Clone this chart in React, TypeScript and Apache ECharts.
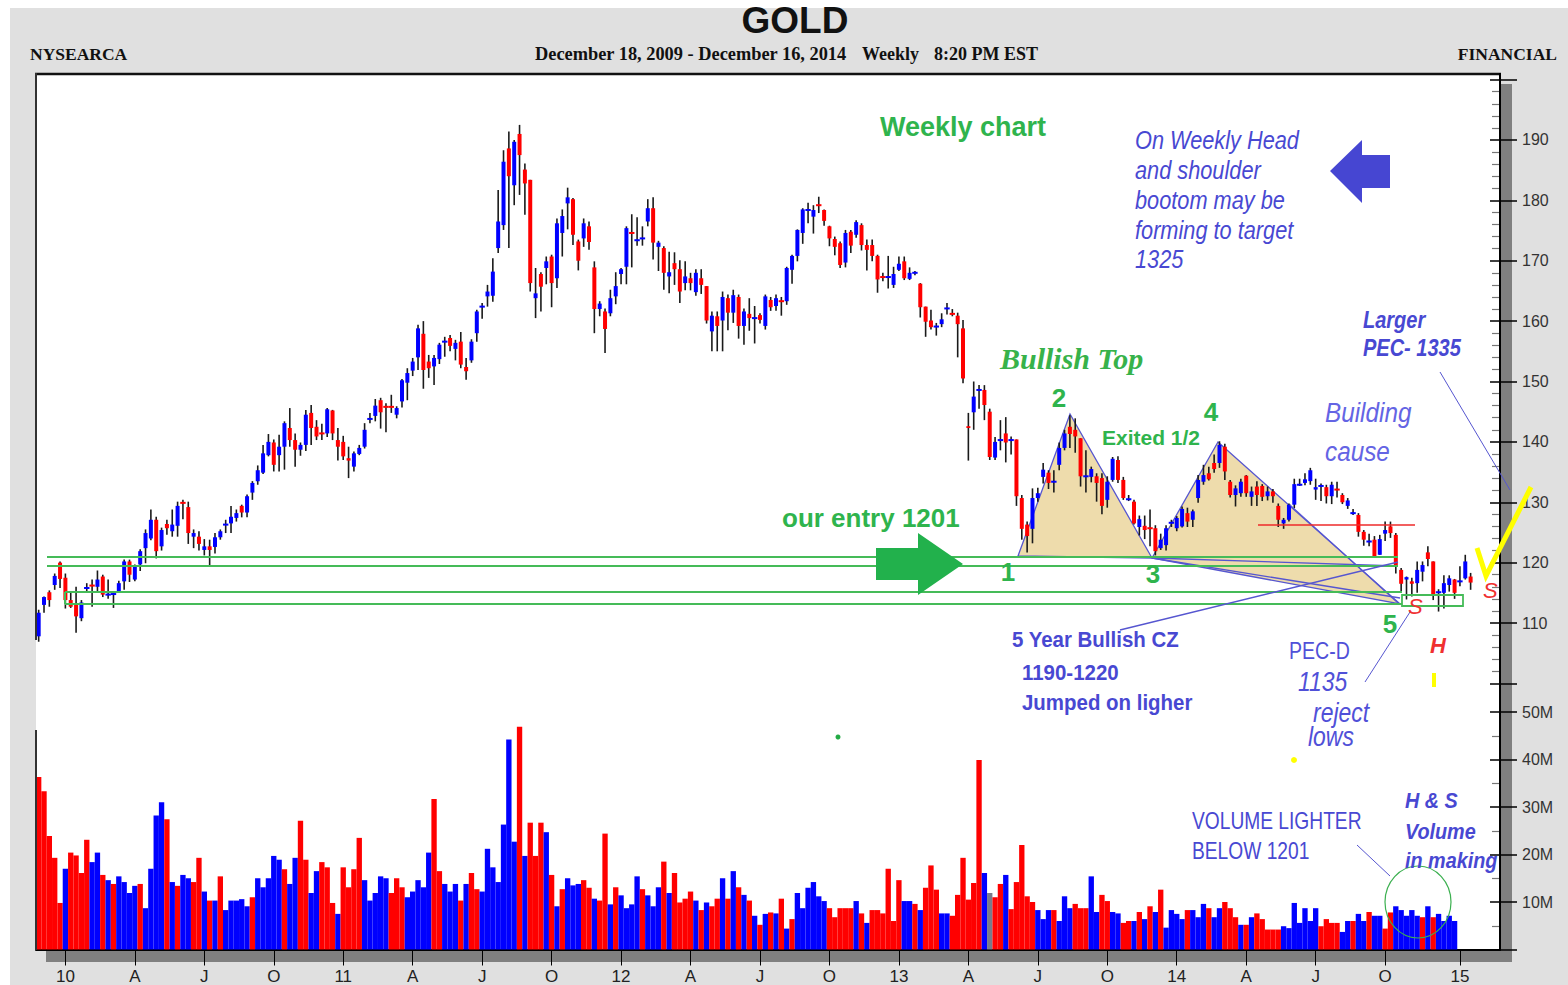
import React, { useEffect, useRef } from 'react';
import * as echarts from 'echarts';

// ---- weekly GLD candles (slots 0..268) ----
const opens = [107.8,113.0,115.1,116.3,120.0,117.5,113.8,113.0,110.8,115.7,116.3,116.0,117.7,114.6,114.7,115.2,116.9,120.2,117.2,119.7,
122.4,124.0,127.1,122.7,126.4,125.2,126.1,130.0,129.2,124.3,124.3,122.1,122.7,122.6,124.2,126.2,126.5,127.4,129.4,128.3,
131.6,133.5,134.9,137.8,139.9,137.8,139.2,142.3,140.3,138.7,139.5,144.8,142.5,141.5,141.4,145.2,140.3,140.0,137.3,135.9,
138.0,139.2,143.7,144.3,146.9,145.9,145.9,144.5,146.7,149.8,151.8,154.0,157.9,153.3,152.5,153.7,156.5,157.2,155.4,156.6,
152.4,153.5,158.0,162.3,164.1,164.2,172.1,175.9,188.6,182.5,191.0,185.1,183.4,163.8,167.8,168.8,170.7,167.1,174.6,179.5,
180.2,173.2,173.7,175.7,168.9,162.0,161.6,161.3,164.1,167.8,169.0,174.7,173.3,173.6,176.5,178.7,172.3,172.1,167.4,169.6,
168.6,166.3,167.1,164.8,167.1,165.8,158.3,160.8,160.1,163.8,161.4,164.0,159.2,161.2,160.4,161.0,159.2,163.5,162.5,163.4,
163.3,168.5,170.8,174.6,178.3,177.3,179.3,178.4,175.7,173.6,172.9,169.7,174.8,174.3,175.9,172.6,172.6,170.8,167.4,167.2,
166.0,168.5,169.9,167.0,167.9,166.2,162.4,160.1,159.0,159.5,162.0,161.3,160.9,158.8,142.6,144.9,148.5,148.6,145.0,137.4,
140.2,141.4,140.2,140.4,130.7,126.3,125.6,130.7,134.2,134.9,133.3,136.2,139.0,142.5,142.0,140.6,134.2,134.2,134.3,134.0,
130.4,133.7,137.0,133.7,130.4,130.1,125.9,126.1,125.8,125.7,122.4,122.9,126.5,125.7,126.0,128.2,127.1,130.7,133.4,134.8,
136.5,136.5,139.2,133.4,131.2,131.5,134.4,130.9,132.6,132.7,131.0,131.8,129.4,126.5,127.1,129.6,132.8,133.2,133.5,132.1,
132.6,132.5,131.0,132.2,131.2,129.4,128.1,127.9,125.1,123.4,123.8,121.3,124.8,126.0,124.6,118.8,117.2,116.9,116.6,118.5,
121.7,120.2,115.0,115.0,116.3,117.2,116.8,117.4,117.7];

const closes = [111.7,114.3,113.8,117.8,117.3,113.8,112.7,111.1,113.4,115.9,116.1,117.2,114.7,114.8,114.9,116.6,120.2,118.0,119.4,121.9,
124.9,127.1,121.9,125.4,125.7,126.3,129.4,129.8,124.9,124.9,123.1,122.7,122.1,124.2,125.2,126.4,127.6,128.2,128.3,131.0,
133.2,135.3,138.1,140.0,136.2,139.2,143.1,140.3,138.7,139.5,144.5,142.3,140.9,141.3,145.4,141.4,139.2,137.6,136.9,138.1,
139.0,142.0,143.9,146.0,144.9,145.7,145.7,145.6,150.2,151.4,153.3,158.8,151.9,152.2,153.9,156.1,156.7,155.9,156.4,152.8,
151.7,156.6,161.6,162.5,164.9,168.2,176.5,186.4,184.0,189.7,187.5,182.8,166.3,164.6,165.7,169.9,166.3,176.2,177.4,180.5,
174.3,170.0,176.2,173.1,162.0,162.9,158.7,163.8,165.8,168.6,175.4,174.5,173.5,173.8,178.7,173.0,173.0,168.0,168.1,168.6,
164.9,167.4,166.3,168.0,166.0,160.1,160.9,159.2,164.0,161.4,164.3,159.2,161.6,160.5,160.6,160.2,164.1,162.3,163.8,163.2,
168.8,170.8,175.1,178.5,178.5,178.4,179.1,176.6,173.7,172.3,169.3,174.6,172.5,176.4,172.6,171.8,170.8,166.9,167.2,167.4,
167.8,169.5,167.1,168.0,168.1,162.3,159.9,159.0,159.2,160.3,162.2,161.1,159.5,150.5,142.3,147.5,148.7,146.1,137.5,140.0,
140.4,139.9,140.4,131.0,125.6,124.4,130.7,131.5,135.4,133.2,133.5,139.0,141.4,141.3,140.9,134.3,134.4,135.5,133.2,129.4,
133.4,137.2,133.7,130.7,130.6,126.5,127.2,125.4,125.6,121.9,123.8,125.7,126.7,127.4,128.9,126.8,128.5,133.7,134.5,133.8,
135.5,139.5,135.1,131.2,132.3,133.4,131.5,131.8,131.2,130.9,131.8,131.0,127.1,127.1,129.6,133.0,133.0,133.8,135.3,132.5,
132.8,131.0,132.9,132.0,130.0,130.3,128.3,125.1,123.8,123.6,121.1,123.9,125.4,124.9,119.6,116.5,117.6,116.5,118.8,119.6,
120.6,114.7,115.2,116.6,117.4,115.0,117.0,120.2,116.7];

const lows = [106.9,111.7,112.7,115.5,115.8,112.4,112.5,108.4,110.3,115.0,112.7,115.0,114.3,114.0,112.5,115.0,115.5,116.8,116.9,118.6,
119.9,123.7,120.7,122.0,124.6,124.3,124.3,127.2,123.1,122.4,122.0,121.2,119.6,121.5,123.8,124.9,124.9,126.8,127.5,127.5,
130.4,132.9,134.7,137.6,135.1,135.1,135.4,139.2,135.9,137.7,138.5,139.5,140.3,140.3,140.8,140.3,136.9,137.0,134.0,135.1,
137.8,138.9,143.1,143.4,142.2,141.6,144.8,143.9,145.7,146.9,150.9,151.9,148.8,150.6,149.4,152.9,154.1,155.0,153.5,152.2,
150.3,153.1,156.6,160.4,162.4,163.2,171.3,175.1,172.1,179.2,180.9,177.6,164.9,160.5,161.6,166.1,162.3,165.5,170.7,175.2,
172.6,168.4,172.3,171.8,158.0,160.8,154.7,160.8,162.8,166.1,166.1,168.9,172.5,172.5,175.7,170.2,168.3,165.2,164.6,166.0,
163.0,165.1,165.1,164.2,164.5,159.6,155.0,155.0,155.0,158.5,159.7,157.1,156.1,158.4,156.3,159.6,158.6,161.7,161.7,160.9,
162.7,166.2,169.9,172.8,176.2,174.5,177.9,175.8,172.4,170.9,168.8,168.9,171.3,173.8,171.7,168.4,169.9,164.7,166.6,165.4,
165.5,168.3,166.8,166.8,167.6,160.6,157.4,158.6,157.6,159.0,161.1,160.8,154.0,149.7,136.9,142.0,145.5,143.6,137.0,137.0,
138.6,136.6,137.9,129.4,123.8,121.7,123.2,130.1,133.1,132.2,131.6,135.3,138.6,139.0,138.2,132.6,131.6,133.3,130.1,128.0,
129.1,133.4,133.2,130.4,130.2,126.3,124.5,123.9,122.7,121.2,122.1,122.0,125.9,125.2,125.8,125.9,125.9,129.9,132.9,133.6,
134.9,135.7,133.7,130.8,129.3,130.9,130.9,129.4,129.4,130.2,130.3,129.9,125.9,125.6,126.8,129.0,132.7,132.8,132.9,130.4,
130.2,129.8,129.7,130.8,129.7,128.9,127.9,124.3,122.8,122.7,121.0,121.3,123.6,124.1,118.2,115.0,113.9,114.4,115.0,116.9,
119.4,113.8,111.9,112.4,115.2,114.0,116.1,117.2,115.5];

const highs = [112.2,114.4,115.4,118.2,120.2,118.2,115.2,116.0,113.8,116.6,117.2,118.7,118.0,117.2,115.2,117.0,120.5,120.5,119.7,122.2,
125.5,128.8,127.6,125.8,127.1,128.8,130.1,130.4,130.1,125.5,125.2,123.9,123.8,124.9,125.5,127.1,129.4,128.8,129.6,131.3,
133.5,136.1,139.5,141.3,140.4,141.2,143.4,145.6,141.4,139.9,145.3,146.1,143.6,143.0,145.6,145.3,142.3,141.0,139.2,138.4,
139.5,143.1,144.8,147.1,147.3,146.4,147.8,145.9,150.4,152.2,153.9,159.4,160.0,154.4,154.4,156.4,157.4,157.7,156.9,158.2,
153.9,157.0,161.9,163.0,166.0,170.4,181.7,188.3,191.4,190.0,192.5,186.1,183.4,168.8,168.1,170.7,171.0,177.0,178.5,182.1,
180.4,173.5,177.0,176.5,169.9,163.3,162.1,165.2,168.1,168.8,175.7,177.7,177.2,175.7,180.2,180.5,173.3,172.4,171.5,171.4,
170.1,169.9,168.0,168.6,168.6,165.8,161.6,161.6,164.9,164.4,165.2,164.4,162.1,163.8,162.5,161.3,164.4,164.0,164.4,164.0,
169.0,171.0,175.2,178.7,179.6,179.2,180.6,178.5,175.8,174.0,173.2,175.1,175.1,176.7,176.2,173.5,173.5,171.0,168.0,170.8,
169.0,170.7,170.7,168.9,168.3,166.3,162.4,161.9,159.7,161.3,163.0,162.0,161.4,160.2,144.8,150.0,149.4,149.4,145.5,140.8,
143.6,144.1,140.9,140.4,131.2,126.8,132.3,132.4,136.5,135.3,135.3,139.9,142.0,144.4,143.9,140.6,138.6,135.9,134.8,134.8,
134.3,137.5,137.6,134.2,131.2,130.4,127.8,127.8,128.8,126.2,124.8,126.2,127.1,127.7,129.3,129.1,128.8,134.5,136.2,135.9,
137.9,140.1,139.7,133.7,132.8,133.9,134.5,132.6,133.5,133.0,132.6,132.2,129.8,127.4,129.8,133.9,133.9,134.8,135.7,133.9,
133.1,132.9,133.4,133.4,131.5,130.7,128.9,128.2,125.4,124.8,124.4,124.6,126.8,126.8,124.9,119.1,117.7,117.5,120.2,120.2,
122.7,120.2,115.6,117.9,117.9,117.3,119.4,121.3,118.3];

// weekly volume, millions (slots 0..265)
const volumes = [36.3,33.3,23.9,19.3,9.8,17.0,20.4,19.8,16.1,23.1,18.4,20.4,15.7,14.6,13.8,15.4,14.2,11.9,13.4,13.8,
8.7,17.0,28.2,31.0,27.4,14.2,13.4,15.7,15.0,14.2,19.3,12.2,10.3,10.3,15.4,8.3,10.3,10.3,10.6,9.1,
11.0,15.0,13.1,15.0,19.7,18.9,16.9,13.8,19.3,27.1,18.9,11.9,16.5,18.4,17.3,9.8,7.5,17.3,13.1,16.9,
23.5,14.6,10.3,11.9,15.4,15.0,11.9,15.0,13.1,11.0,12.2,14.6,13.1,20.4,31.7,16.5,13.8,12.2,13.8,10.3,
13.8,16.1,12.7,12.2,21.2,17.3,14.2,26.3,44.2,22.7,46.9,19.7,26.7,19.7,26.7,24.7,15.7,9.1,12.7,15.0,
13.5,13.8,14.6,13.0,10.7,10.3,24.4,9.5,13.1,11.4,8.7,9.5,15.4,12.7,11.4,9.1,13.1,18.5,11.9,16.1,
9.9,10.7,12.2,10.3,8.3,9.9,9.1,10.7,15.0,10.7,16.5,13.1,11.5,10.3,7.1,5.2,7.5,7.8,7.6,10.7,
4.4,6.4,11.9,8.7,13.0,14.2,11.2,10.2,8.7,6.8,8.7,8.7,8.7,10.2,7.6,5.6,8.3,8.3,7.6,17.0,
6.0,14.6,10.2,10.2,9.6,8.3,13.0,17.7,12.6,7.6,7.6,7.1,11.5,19.3,10.5,14.0,39.9,16.1,11.9,11.0,
13.8,15.7,8.5,14.2,22.0,11.2,10.0,8.3,6.4,8.3,8.3,6.0,11.2,8.7,9.6,8.7,8.7,15.4,7.9,11.5,
10.2,7.9,7.6,5.6,6.0,6.0,7.9,6.4,9.1,7.9,12.6,4.6,8.3,7.5,6.4,8.3,8.3,6.8,9.6,8.7,
6.8,8.7,10.0,8.7,6.8,5.2,5.2,6.8,7.6,6.4,4.2,4.2,4.2,4.9,4.5,9.8,5.6,8.7,6.0,8.7,
4.9,6.4,5.6,5.6,3.7,6.0,6.0,7.5,6.0,7.9,7.1,7.1,4.4,7.8,9.1,8.3,7.1,8.3,7.1,6.8,
9.1,6.8,7.5,6.0,7.1,6.0];

// r = down week, b = up week, g = unchanged
const volumeColors =
  'rrrrrbrrrr' + 'bbrbrbbbbr' + 'bbbbrbrbbr' + 'rbrbrbbbbb' + 'rbbbbbrbbr' +
  'rbbrrrbrrr' + 'rbbbbbrrrb' + 'bbbbrrbbbr' + 'brrbbbbbbb' + 'rbrrrbrbrb' +
  'bbrrbrrbrb' + 'bbbrbbbrbr' + 'rrrbrbrrbr' + 'brbrbrbrbr' + 'brbbbbbbrr' +
  'rrrbrbrrrr' + 'rrbbrbrrrb' + 'brrrrrrbgr' + 'rbrrrrrbbb' + 'rbbbrrrbbr' +
  'rbbrrbrbrb' + 'rbbbbrbbbr' + 'bbrrrbrbrr' + 'rrrbbbbbbb' + 'rrrrbbrbbr' +
  'bbrrbbbbbr' + 'brbbbb';

const SLOT_COUNT = 274;
const tickSlots = [5, 18, 31, 44, 57, 70, 83, 96, 109, 122, 135, 148, 161, 174, 187, 200, 213, 226, 239, 252, 266];
const tickLabels = ['10', 'A', 'J', 'O', '11', 'A', 'J', 'O', '12', 'A', 'J', 'O', '13', 'A', 'J', 'O', '14', 'A', 'J', 'O', '15'];

const SANS = '"Liberation Sans", Arial, sans-serif';
const NARROW = '"Liberation Sans Narrow", "Liberation Sans", Arial, sans-serif';
const SERIF = '"Liberation Serif", "Times New Roman", serif';
const GREEN = '#2fb44d';
const TXT_BLUE = '#4848d2';
const LINE_BLUE = '#5656d0';

function txt(text: string, x: number, y: number, font: string, fill: string, opts: any = {}) {
  return {
    type: 'text', x, y, z: 30, scaleX: opts.scaleX ?? 1,
    style: {
      text, font, fill,
      textAlign: opts.align || 'left', align: opts.align || 'left',
      textVerticalAlign: 'middle', verticalAlign: 'middle',
    },
  };
}
function ln(x1: number, y1: number, x2: number, y2: number, stroke: string, w: number, z = 25) {
  return { type: 'line', z, shape: { x1, y1, x2, y2 }, style: { stroke, lineWidth: w } };
}

export default function App() {
  const ref = useRef<HTMLDivElement>(null);
  useEffect(() => {
    if (!ref.current) return;
    const chart = echarts.init(ref.current, undefined, { renderer: 'svg' });
    const cats = Array.from({ length: SLOT_COUNT }, (_, i) => String(i));
    const tickSet = new Set(tickSlots);
    const labelMap: Record<number, string> = {};
    tickSlots.forEach((s, k) => { labelMap[s] = tickLabels[k]; });

    const candleData = opens.map((o, i) => [i, o, closes[i], lows[i], highs[i]]);
    const colorOf: Record<string, string> = { r: '#ff0000', b: '#0000ff', g: '#7a7a8a' };
    const volData = volumes.map((v, i) => ({ value: v, itemStyle: { color: colorOf[volumeColors[i]] || '#0000ff' } }));

    const axisFont = { fontFamily: NARROW, fontSize: 16, color: '#333' };

    const elements: any[] = [
      // background and frame shadow
      { type: 'rect', z: -20, shape: { x: 10, y: 8, width: 1558, height: 977 }, style: { fill: '#e0e0e0' } },
      { type: 'rect', z: -15, shape: { x: 1501, y: 84, width: 11, height: 878 }, style: { fill: '#808080' } },
      { type: 'rect', z: -15, shape: { x: 46, y: 950, width: 1466, height: 12 }, style: { fill: '#808080' } },
      { type: 'rect', z: -12, shape: { x: 36, y: 73, width: 1464, height: 876 }, style: { fill: '#ffffff' } },
      // frame
      ln(35, 74, 1501, 74, '#111', 2.5, 5),
      ln(36, 73, 36, 640, '#333', 2, 5),
      ln(36, 730, 36, 950, '#333', 2, 5),
      ln(1500, 73, 1500, 950, '#000', 2, 5),
      // header
      txt('GOLD', 795, 20, `bold 37px ${SANS}`, '#111', { align: 'center' }),
      txt('NYSEARCA', 30, 54, `bold 17.5px ${SERIF}`, '#111'),
      txt('December 18, 2009 - December 16, 2014', 535, 54, `bold 18px ${SERIF}`, '#111', { scaleX: 1.02 }),
      txt('Weekly', 862, 54, `bold 18px ${SERIF}`, '#111'),
      txt('8:20 PM EST', 934, 54, `bold 18px ${SERIF}`, '#111'),
      txt('FINANCIAL', 1557, 54, `bold 17.5px ${SERIF}`, '#111', { align: 'right' }),
      // shaded patterns
      { type: 'polygon', z: -5, shape: { points: [[1018, 556], [1070, 414], [1152, 558]] }, style: { fill: '#eedcac', stroke: LINE_BLUE, lineWidth: 1.3 } },
      { type: 'polygon', z: -5, shape: { points: [[1152, 558], [1218, 442], [1400, 604]] }, style: { fill: '#eedcac', stroke: LINE_BLUE, lineWidth: 1.3 } },
      ln(1152, 558, 1400, 598, LINE_BLUE, 1.3),
      ln(1152, 558, 1398, 566, LINE_BLUE, 1.3),
      ln(1290, 505, 1398, 603, LINE_BLUE, 1.1),
      // support zone lines
      ln(47, 557, 1398, 557, '#45bb58', 2),
      ln(47, 566, 1398, 566, '#45bb58', 2),
      ln(65, 592, 1402, 592, '#45bb58', 2),
      ln(65, 604, 1402, 604, '#45bb58', 2),
      ln(65, 592, 65, 604, '#45bb58', 2),
      { type: 'rect', z: 25, shape: { x: 1402, y: 595, width: 61, height: 11 }, style: { fill: 'none', stroke: '#45bb58', lineWidth: 1.8 } },
      ln(1258, 525, 1415, 525, '#ee2a2a', 1.5),
      // arrows
      { type: 'polygon', z: 25, shape: { points: [[876, 548], [918, 548], [918, 533], [963, 564], [918, 595], [918, 580], [876, 580]] }, style: { fill: '#22b14c' } },
      { type: 'polygon', z: 25, shape: { points: [[1390, 155], [1362, 155], [1362, 140], [1330, 171], [1362, 203], [1362, 188], [1390, 188]] }, style: { fill: '#4646d2' } },
      // pointer lines
      ln(1120, 630, 1398, 562, LINE_BLUE, 1.4),
      ln(1440, 372, 1510, 490, LINE_BLUE, 1),
      ln(1365, 682, 1410, 612, LINE_BLUE, 1),
      ln(1357, 845, 1390, 876, LINE_BLUE, 1),
      // yellow marks
      { type: 'polyline', z: 26, shape: { points: [[1477, 548], [1486, 576], [1531, 487]] }, style: { stroke: '#ffff00', lineWidth: 5, fill: 'none' } },
      { type: 'rect', z: 26, shape: { x: 1432, y: 673, width: 4, height: 14 }, style: { fill: '#ffff00' } },
      { type: 'circle', z: 26, shape: { cx: 1294, cy: 760, r: 3 }, style: { fill: '#ffff00' } },
      { type: 'circle', z: 26, shape: { cx: 838, cy: 737, r: 2.5 }, style: { fill: '#22aa44' } },
      { type: 'ellipse', z: 26, shape: { cx: 1418, cy: 902, rx: 33, ry: 36 }, style: { fill: 'none', stroke: '#3cb050', lineWidth: 1.2 } },
      // green texts
      txt('Weekly chart', 880, 127, `bold 27px ${SANS}`, GREEN),
      txt('Bullish Top', 1000, 358, `italic bold 30px ${SERIF}`, '#37b24a'),
      txt('2', 1059, 398, `bold 26px ${SANS}`, GREEN, { align: 'center' }),
      txt('4', 1211, 412, `bold 26px ${SANS}`, GREEN, { align: 'center' }),
      txt('1', 1008, 572, `bold 26px ${SANS}`, GREEN, { align: 'center' }),
      txt('3', 1153, 574, `bold 26px ${SANS}`, GREEN, { align: 'center' }),
      txt('5', 1390, 624, `bold 26px ${SANS}`, GREEN, { align: 'center' }),
      txt('Exited 1/2', 1102, 437, `bold 21px ${SANS}`, GREEN),
      txt('our entry 1201', 782, 518, `bold 26px ${SANS}`, GREEN),
      // blue texts
      txt('On Weekly Head', 1135, 140, `italic 25px ${SANS}`, TXT_BLUE, { scaleX: 0.87 }),
      txt('and shoulder', 1135, 170, `italic 25px ${SANS}`, TXT_BLUE, { scaleX: 0.87 }),
      txt('bootom may be', 1135, 200, `italic 25px ${SANS}`, TXT_BLUE, { scaleX: 0.87 }),
      txt('forming to target', 1135, 230, `italic 25px ${SANS}`, TXT_BLUE, { scaleX: 0.87 }),
      txt('1325', 1135, 259, `italic 25px ${SANS}`, TXT_BLUE, { scaleX: 0.87 }),
      txt('Larger', 1363, 320, `italic bold 23px ${SANS}`, TXT_BLUE, { scaleX: 0.87 }),
      txt('PEC- 1335', 1363, 348, `italic bold 23px ${SANS}`, TXT_BLUE, { scaleX: 0.87 }),
      txt('Building', 1325, 413, `italic 27px ${SANS}`, '#6464e4', { scaleX: 0.9 }),
      txt('cause', 1325, 452, `italic 27px ${SANS}`, '#6464e4', { scaleX: 0.9 }),
      txt('5 Year Bullish CZ', 1012, 640, `bold 22px ${SANS}`, TXT_BLUE, { scaleX: 0.93 }),
      txt('1190-1220', 1022, 673, `bold 22px ${SANS}`, TXT_BLUE, { scaleX: 0.93 }),
      txt('Jumped on ligher', 1022, 703, `bold 22px ${SANS}`, TXT_BLUE, { scaleX: 0.93 }),
      txt('PEC-D', 1289, 651, `23px ${SANS}`, '#5050d8', { scaleX: 0.85 }),
      txt('1135', 1298, 681, `italic 27px ${SANS}`, '#5050d8', { scaleX: 0.85 }),
      txt('reject', 1313, 712, `italic 27px ${SANS}`, '#5050d8', { scaleX: 0.85 }),
      txt('lows', 1308, 736, `italic 27px ${SANS}`, '#5050d8', { scaleX: 0.85 }),
      txt('VOLUME LIGHTER', 1192, 821, `24px ${SANS}`, TXT_BLUE, { scaleX: 0.8 }),
      txt('BELOW 1201', 1192, 851, `24px ${SANS}`, TXT_BLUE, { scaleX: 0.8 }),
      txt('H & S', 1405, 800, `italic bold 22px ${SANS}`, TXT_BLUE, { scaleX: 0.9 }),
      txt('Volume', 1405, 831, `italic bold 22px ${SANS}`, TXT_BLUE, { scaleX: 0.9 }),
      txt('in making', 1405, 860, `italic bold 22px ${SANS}`, TXT_BLUE, { scaleX: 0.9 }),
      // red marks
      txt('S', 1408, 606, `italic 22px ${SANS}`, '#f03030'),
      txt('S', 1483, 590, `italic 22px ${SANS}`, '#f03030'),
      txt('H', 1430, 645, `italic bold 22px ${SANS}`, '#f03030'),
    ];

    chart.setOption({
      animation: false,
      backgroundColor: '#ffffff',
      grid: [
        { left: 36, top: 79.6, width: 1464, height: 603.8 },
        { left: 36, top: 712, width: 1464, height: 237.5 },
      ],
      xAxis: [
        { type: 'category', gridIndex: 0, data: cats, show: false, boundaryGap: true },
        {
          type: 'category', gridIndex: 1, data: cats, boundaryGap: true,
          axisLine: { show: true, lineStyle: { color: '#000', width: 2 } },
          axisTick: { show: true, alignWithLabel: true, interval: (i: number) => tickSet.has(i), length: 16, lineStyle: { color: '#000', width: 1 } },
          axisLabel: { interval: (i: number) => tickSet.has(i), formatter: (_v: string, i: number) => labelMap[i] || '', margin: 18, ...axisFont, color: '#222', fontSize: 17 },
          splitLine: { show: false },
        },
      ],
      yAxis: [
        {
          type: 'value', gridIndex: 0, position: 'right', min: 100, max: 200, interval: 10,
          axisLine: { show: true, lineStyle: { color: '#000', width: 2 } },
          axisTick: { show: true, inside: true, length: 10, lineStyle: { color: '#000', width: 1.5 } },
          minorTick: { show: true, splitNumber: 5, length: 8, lineStyle: { color: '#777', width: 1.2 } },
          axisLabel: { show: false }, splitLine: { show: false },
        },
        {
          type: 'value', gridIndex: 0, position: 'right', min: 100, max: 200, interval: 10,
          axisLine: { show: false },
          axisTick: { show: true, length: 17, lineStyle: { color: '#000', width: 1.5 } },
          axisLabel: { formatter: (v: number) => (v >= 110 && v <= 190 ? String(v) : ''), margin: 22, ...axisFont },
          splitLine: { show: false },
        },
        {
          type: 'value', gridIndex: 1, position: 'right', min: 0, max: 50, interval: 10,
          axisLine: { show: true, lineStyle: { color: '#000', width: 2 } },
          axisTick: { show: true, inside: true, length: 10, lineStyle: { color: '#000', width: 1.5 } },
          minorTick: { show: true, splitNumber: 2, length: 8, lineStyle: { color: '#777', width: 1.2 } },
          axisLabel: { show: false }, splitLine: { show: false },
        },
        {
          type: 'value', gridIndex: 1, position: 'right', min: 0, max: 50, interval: 10,
          axisLine: { show: false },
          axisTick: { show: true, length: 17, lineStyle: { color: '#000', width: 1.5 } },
          axisLabel: { formatter: (v: number) => (v > 0 ? v + 'M' : ''), margin: 22, ...axisFont },
          splitLine: { show: false },
        },
      ],
      series: [
        {
          type: 'custom', xAxisIndex: 0, yAxisIndex: 0, data: candleData,
          encode: { x: 0, y: [1, 2, 3, 4] },
          renderItem: (_p: any, api: any) => {
            const i = api.value(0);
            const o = api.value(1), c = api.value(2);
            const l = Math.min(api.value(3), o, c), h = Math.max(api.value(4), o, c);
            const pO = api.coord([i, o]), pC = api.coord([i, c]);
            const pL = api.coord([i, l]), pH = api.coord([i, h]);
            const x = pO[0];
            const hgt = Math.abs(pO[1] - pC[1]);
            const doji = hgt < 1.8;
            const color = c >= o ? '#0000ff' : '#ff0000';
            return {
              type: 'group',
              children: [
                { type: 'line', shape: { x1: x, y1: pH[1], x2: x, y2: pL[1] }, style: { stroke: '#1a1a1a', lineWidth: 1.6 } },
                {
                  type: 'rect',
                  shape: doji
                    ? { x: x - 2.7, y: (pO[1] + pC[1]) / 2 - 1, width: 5.4, height: 2 }
                    : { x: x - 2, y: Math.min(pO[1], pC[1]), width: 4, height: hgt },
                  style: { fill: color },
                },
              ],
            };
          },
        },
        {
          type: 'bar', xAxisIndex: 1, yAxisIndex: 2, data: volData,
          barCategoryGap: '0%', barGap: '0%',
        },
      ],
      graphic: { elements },
    });
    return () => chart.dispose();
  }, []);
  return <div ref={ref} style={{ position: 'absolute', left: 0, top: 0, width: 1568, height: 985 }} />;
}
